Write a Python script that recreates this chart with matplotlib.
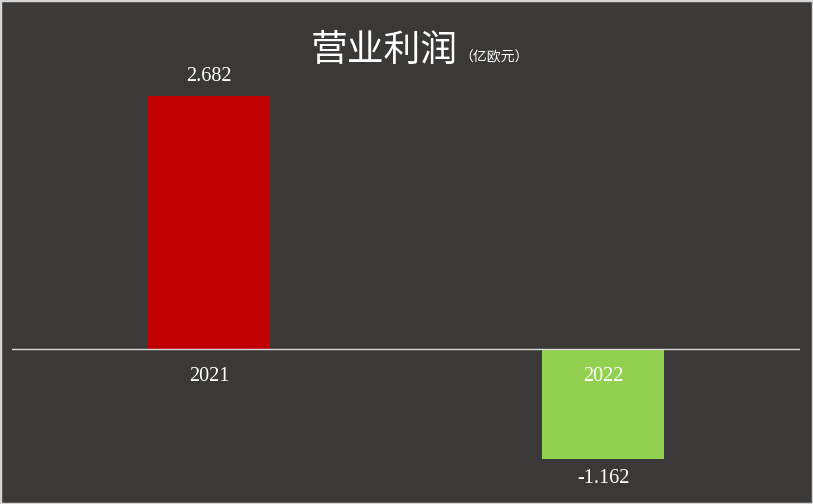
import matplotlib
matplotlib.use("Agg")
import matplotlib.pyplot as plt
from matplotlib.patches import Rectangle

categories = ["2021", "2022"]
values = [2.682, -1.162]
value_labels = ["2.682", "-1.162"]
colors = ["#c00000", "#92d050"]
title = "营业利润"
unit = "（亿欧元）"

W, H = 813, 504
bg = "#3a3937"
fig = plt.figure(figsize=(W / 100, H / 100), dpi=100, facecolor=bg)

# axes: x from 12 to 800 px, y from bar top (96) to bar bottom (459)
ax = fig.add_axes([12 / W, (H - 459) / H, 788 / W, (459 - 96) / H])
ax.set_facecolor(bg)
ax.set_xlim(-0.5, 1.5)
ax.set_ylim(min(values), max(values))
x = list(range(len(categories)))
ax.bar(x, values, width=0.312, color=colors, zorder=2)
ax.axhline(0, color="#d9d9d9", linewidth=1.0, zorder=3)
for s in ax.spines.values():
    s.set_visible(False)
ax.set_xticks([])
ax.set_yticks([])

serif = "Liberation Serif"
for xi, v, lab, cat in zip(x, values, value_labels, categories):
    if v >= 0:
        ax.annotate(lab, (xi, v), xytext=(0, 7), textcoords="offset points",
                    ha="center", va="bottom", color="white", fontsize=14.5,
                    family=serif, annotation_clip=False)
    else:
        ax.annotate(lab, (xi, v), xytext=(0, -7), textcoords="offset points",
                    ha="center", va="top", color="white", fontsize=14.5,
                    family=serif, annotation_clip=False)
    ax.annotate(cat, (xi, 0), xytext=(0, -13), textcoords="offset points",
                ha="center", va="top", color="white", fontsize=14.5,
                family=serif, annotation_clip=False)

fig.text(384 / W, 1 - 50 / H, title, ha="center", va="center", color="white",
         fontsize=26.5, family=["Noto Sans CJK SC", "DejaVu Sans"])
fig.text(459 / W, 1 - 57 / H, unit, ha="left", va="center", color="white",
         fontsize=10, family=["Noto Sans CJK SC", "DejaVu Sans"])

fig.patches.append(Rectangle((0, 0), 1, 1, transform=fig.transFigure,
                             fill=False, edgecolor="#d4d4d4", linewidth=2.5,
                             zorder=10))

fig.savefig("out.png", dpi=100, facecolor=bg)
